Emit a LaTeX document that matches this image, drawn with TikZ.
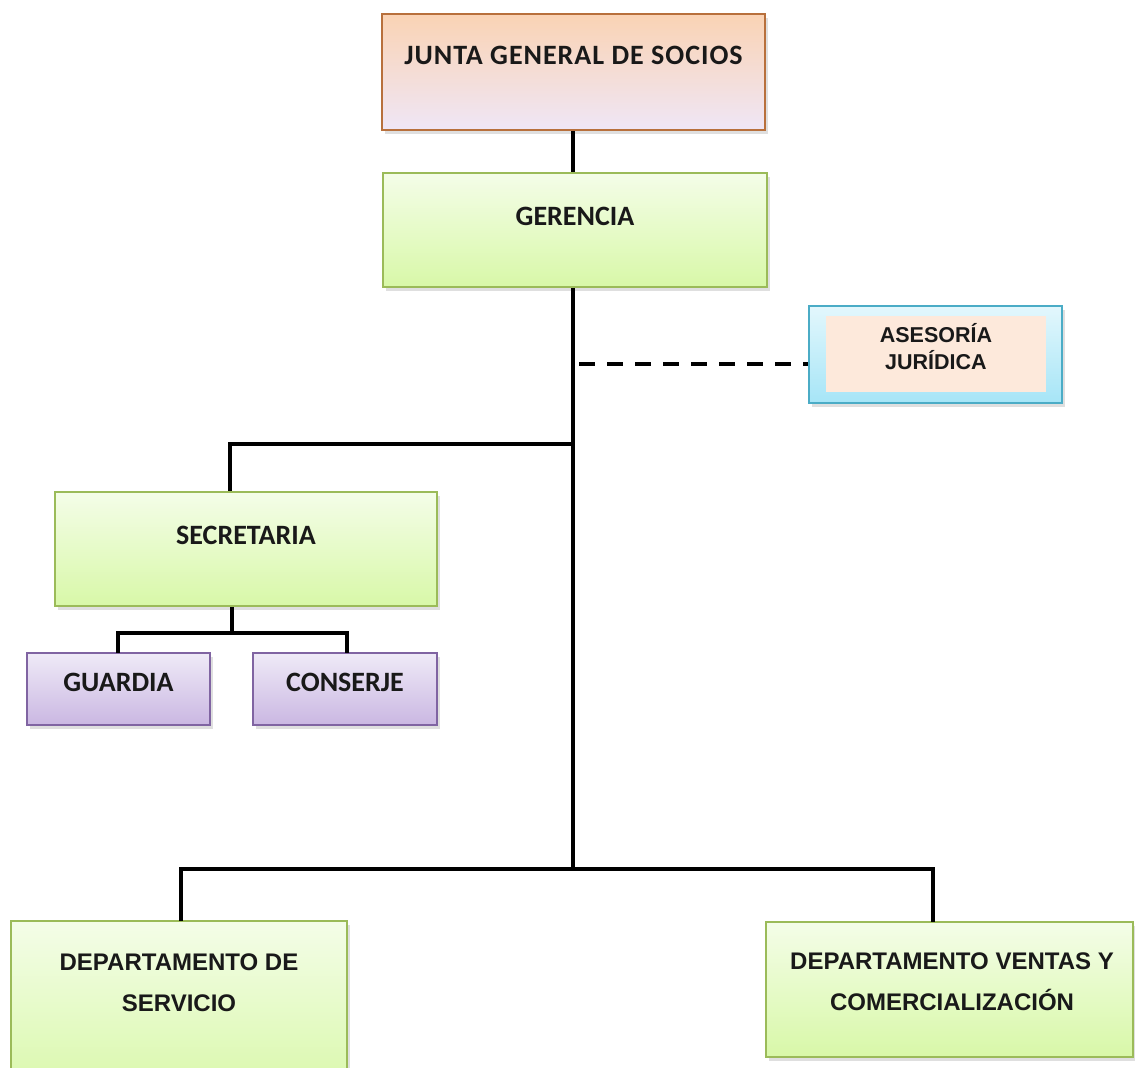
\documentclass[tikz,border=0pt]{standalone}
\usepackage{fontspec}
\setmainfont{Carlito}
\newfontfamily\arialfont{Liberation Sans}
\usetikzlibrary{shadows}

% palette
\definecolor{peachT}{HTML}{FAD3B4}
\definecolor{peachB}{HTML}{EFE6F6}
\definecolor{peachD}{HTML}{B8703C}
\definecolor{grnT}{HTML}{F4FDE8}
\definecolor{grnB}{HTML}{D8F8A8}
\definecolor{grnD}{HTML}{9BBB59}
\definecolor{purT}{HTML}{EFEAF7}
\definecolor{purB}{HTML}{CAB7E2}
\definecolor{purD}{HTML}{8064A2}
\definecolor{cyT}{HTML}{E3F7FC}
\definecolor{cyB}{HTML}{A6E5F7}
\definecolor{cyD}{HTML}{4BACC6}
\definecolor{innerfill}{HTML}{FDE9DB}

\tikzset{
  box/.style={rectangle, inner sep=0pt, line width=1.8pt,
    drop shadow={shadow xshift=3pt, shadow yshift=-4pt, opacity=0.25}},
  juntabox/.style={box, draw=peachD, top color=peachT, bottom color=peachB},
  greenbox/.style={box, draw=grnD, top color=grnT, bottom color=grnB},
  purplebox/.style={box, draw=purD, top color=purT, bottom color=purB},
  cyanbox/.style={box, draw=cyD, top color=cyT, bottom color=cyB},
  calibri/.style={font=\fontsize{28}{30}\selectfont\bfseries, text=black!90},
  arial/.style={font=\arialfont\fontsize{24}{41}\selectfont\bfseries, align=center, text=black!90},
  arialsmall/.style={font=\arialfont\fontsize{21.5}{27.5}\selectfont\bfseries, align=center, text=black!90},
  link/.style={line width=4pt, black},
  dashlink/.style={line width=3.2pt, black, dash pattern=on 16pt off 12pt},
}

\begin{document}
\begin{tikzpicture}[x=1pt, y=-1pt]
\clip (0,0) rectangle (1135,1068);
\fill[white] (0,0) rectangle (1135,1068);

% boxes
\node[juntabox, minimum width=383pt, minimum height=116pt,
  label={[calibri, yshift=17pt]center:{\addfontfeatures{LetterSpace=3.5}JUNTA GENERAL DE SOCIOS}}] (junta) at (573.5,72) {};
\node[greenbox, minimum width=384pt, minimum height=114pt,
  label={[calibri, yshift=14pt]center:GERENCIA}] (ger) at (575,230) {};
\node[cyanbox, minimum width=253pt, minimum height=97pt] (ase) at (935.5,354.5) {};
\node[rectangle, fill=innerfill, minimum width=220pt, minimum height=76pt,
  inner sep=0pt, arialsmall, anchor=center] (asein) at (936,354)
  {\raisebox{33pt}{\parbox{200pt}{\centering ASESORÍA\\ JURÍDICA}}};
\node[greenbox, minimum width=382pt, minimum height=114pt,
  label={[calibri, yshift=14pt]center:SECRETARIA}] (sec) at (246,549) {};
\node[purplebox, minimum width=183pt, minimum height=72pt,
  label={[calibri, yshift=7pt]center:GUARDIA}] (gua) at (118.5,689) {};
\node[purplebox, minimum width=184pt, minimum height=72pt,
  label={[calibri, yshift=7pt]center:CONSERJE}] (con) at (345,689) {};
\node[greenbox, minimum width=336pt, minimum height=180pt] (serv) at (179,1011) {};
\node[arial, anchor=center] (servtxt) at (179,983) {DEPARTAMENTO DE\\SERVICIO};
\node[greenbox, minimum width=367pt, minimum height=135pt] (vent) at (949.5,989.5) {};
\node[arial, anchor=center] (venttxt) at (952,982) {DEPARTAMENTO VENTAS Y\\COMERCIALIZACIÓN};

% junction points
\coordinate (secj) at (573,444);
\coordinate (botj) at (573,869);
\coordinate (dashj) at (579,364);

% connectors
\draw[link] (junta.south -| 573,0) -- (ger.north -| 573,0);
\draw[link] (ger.south -| 573,0) -- (botj);
\draw[dashlink] (dashj) -- (ase.west |- dashj);
\draw[link] (secj) -| (sec.north -| 230,0);
\draw[link] (sec.south -| 232,0) -- (232,633);
\draw[link] (118,653) |- (232,633) -| (347,653);
\draw[link] (181,921) |- (botj) -| (933,922);
\end{tikzpicture}
\end{document}
